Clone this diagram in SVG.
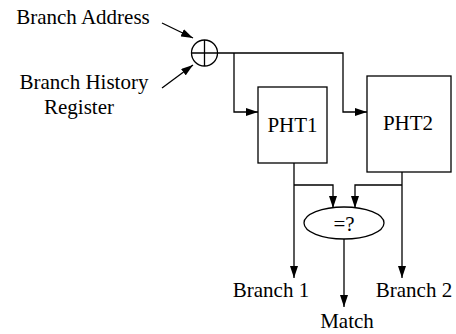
<svg xmlns="http://www.w3.org/2000/svg" width="456" height="334" viewBox="0 0 456 334">
<style>
text{font-family:"Liberation Serif","Times New Roman",serif;font-size:21px;fill:#000}
.ln{fill:none;stroke:#000;stroke-width:1.3}
.bx{fill:#fff;stroke:#000;stroke-width:1.3}
</style>
<defs>
<marker id="ah" markerWidth="12" markerHeight="8" refX="12" refY="4" orient="auto" markerUnits="userSpaceOnUse">
<path d="M0,0 L12,4 L0,8 Z" fill="#000"/>
</marker>
</defs>
<rect width="456" height="334" fill="#fff"/>
<g id="labels">
<text x="83" y="24" text-anchor="middle">Branch Address</text>
<text x="84" y="89" text-anchor="middle">Branch History</text>
<text x="79" y="114" text-anchor="middle">Register</text>
<text x="271" y="297" text-anchor="middle">Branch 1</text>
<text x="414" y="297" text-anchor="middle">Branch 2</text>
<text x="347" y="328" text-anchor="middle">Match</text>
</g>
<g id="connectors">
<path class="ln" d="M162,23 L193,38" marker-end="url(#ah)"/>
<path class="ln" d="M162,88 L193,65" marker-end="url(#ah)"/>
<path class="ln" d="M218,53 L343,53 L343,112 L367,112" marker-end="url(#ah)"/>
<path class="ln" d="M234,53 L234,112 L258,112" marker-end="url(#ah)"/>
<path class="ln" d="M294,163 L294,278" marker-end="url(#ah)"/>
<path class="ln" d="M294,185 L333,185 L333,208" marker-end="url(#ah)"/>
<path class="ln" d="M402,172 L402,278" marker-end="url(#ah)"/>
<path class="ln" d="M402,185 L355,185 L355,208" marker-end="url(#ah)"/>
<path class="ln" d="M344,239 L344,307" marker-end="url(#ah)"/>
</g>
<g id="xor">
<circle class="bx" cx="204.5" cy="53" r="13"/>
<path class="ln" d="M191.5,53 H217.5 M204.5,40 V66"/>
</g>
<g id="pht1">
<rect class="bx" x="258" y="87" width="69" height="76"/>
<text x="292.5" y="132" text-anchor="middle">PHT1</text>
</g>
<g id="pht2">
<rect class="bx" x="367" y="76" width="84" height="96"/>
<text x="408" y="130" text-anchor="middle">PHT2</text>
</g>
<g id="compare">
<ellipse class="bx" cx="344" cy="223" rx="40" ry="16"/>
<text x="344" y="231" text-anchor="middle">=?</text>
</g>
</svg>
